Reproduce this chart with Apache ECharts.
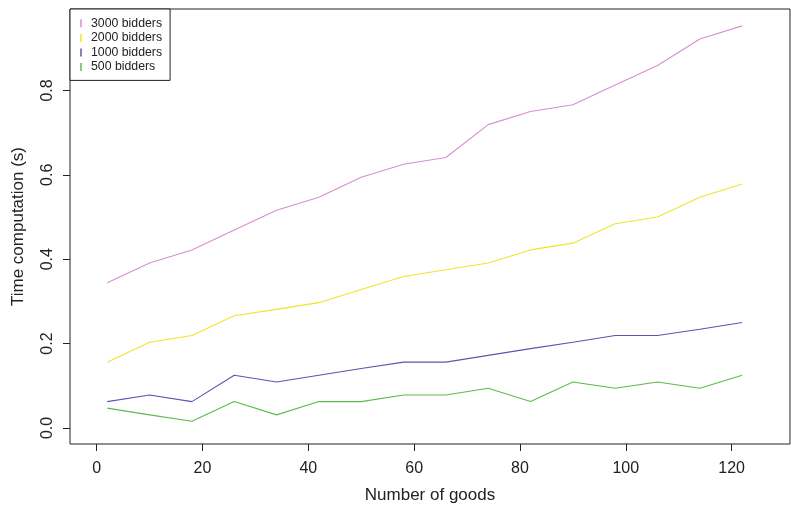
<!DOCTYPE html>
<html>
<head>
<meta charset="utf-8">
<script src="https://cdn.jsdelivr.net/npm/echarts@6/dist/echarts.min.js"></script>
<style>
html,body{margin:0;padding:0;background:#fff;}
#c{width:791px;height:506px;}
</style>
</head>
<body>
<div id="c"></div>
<script>
var goods = [2, 10, 18, 26, 34, 42, 50, 58, 66, 74, 82, 90, 98, 106, 114, 122];
var bidders3000 = [0.344, 0.391, 0.422, 0.469, 0.516, 0.547, 0.594, 0.625, 0.641, 0.719, 0.750, 0.766, 0.813, 0.859, 0.922, 0.953];
var bidders2000 = [0.156, 0.203, 0.219, 0.266, 0.281, 0.297, 0.328, 0.359, 0.375, 0.391, 0.422, 0.438, 0.484, 0.500, 0.547, 0.578];
var bidders1000 = [0.0625, 0.078, 0.0625, 0.125, 0.109, 0.125, 0.141, 0.156, 0.156, 0.172, 0.188, 0.203, 0.219, 0.219, 0.234, 0.250];
var bidders500 = [0.047, 0.031, 0.016, 0.0625, 0.031, 0.0625, 0.0625, 0.078, 0.078, 0.094, 0.0625, 0.109, 0.094, 0.109, 0.094, 0.125];
var seriesNames = ['3000 bidders', '2000 bidders', '1000 bidders', '500 bidders'];
var xTicks = [0, 20, 40, 60, 80, 100, 120];
var yTicks = [0, 0.2, 0.4, 0.6, 0.8];

var colors = ['#D98ED0', '#EEE52C', '#5B55AE', '#5CBB4C'];
var allData = [bidders3000, bidders2000, bidders1000, bidders500];

function pairs(ys) { return goods.map(function (g, i) { return [g, ys[i]]; }); }

var FONT = '"Liberation Sans", Arial, Helvetica, sans-serif';
var chart = echarts.init(document.getElementById('c'), null, {renderer: 'canvas'});
chart.setOption({
  animation: false,
  backgroundColor: '#fff',
  grid: {left: 70, right: 1, top: 9, bottom: 62, show: true, borderColor: '#222', borderWidth: 1,
    backgroundColor: 'transparent', containLabel: false, outerBoundsMode: 'none'},
  legend: {
    orient: 'vertical', left: 70, top: 9,
    data: seriesNames.map(function (n, i) { return {name: n, icon: 'rect', itemStyle: {color: colors[i], opacity: 0.75}}; }),
    itemWidth: 2, itemHeight: 8, itemGap: 0,
    padding: [7, 8, 6, 10],
    borderColor: '#222', borderWidth: 1, borderRadius: 0,
    backgroundColor: '#fff',
    textStyle: {fontFamily: FONT, fontSize: 12.3, color: '#222', lineHeight: 14.6, padding: [0, 0, 0, 4]}
  },
  xAxis: {
    type: 'value', min: -5.04, max: 131.04,
    name: 'Number of goods', nameLocation: 'middle', nameGap: 43,
    nameTextStyle: {fontFamily: FONT, fontSize: 17, color: '#222'},
    axisLine: {show: false, onZero: false},
    axisTick: {show: true, length: 7, lineStyle: {color: '#222', width: 1}, customValues: xTicks},
    axisLabel: {fontFamily: FONT, fontSize: 16, color: '#222', margin: 17, customValues: xTicks,
      formatter: function (v) { return String(v); }},
    splitLine: {show: false}
  },
  yAxis: {
    type: 'value', min: -0.038, max: 0.993,
    name: 'Time computation (s)', nameLocation: 'middle', nameGap: 43,
    nameTextStyle: {fontFamily: FONT, fontSize: 17, color: '#222'},
    axisLine: {show: false, onZero: false},
    axisTick: {show: true, length: 7, lineStyle: {color: '#222', width: 1}, customValues: yTicks},
    axisLabel: {fontFamily: FONT, fontSize: 16, color: '#222', margin: 14, rotate: 90, customValues: yTicks,
      formatter: function (v) { return v.toFixed(1); }},
    splitLine: {show: false}
  },
  series: seriesNames.map(function (n, i) {
    return {
      name: n, type: 'line', data: pairs(allData[i]), showSymbol: false, symbol: 'none',
      lineStyle: {color: colors[i], width: 1.1}, itemStyle: {color: colors[i]}, z: 2
    };
  })
});
</script>
</body>
</html>
